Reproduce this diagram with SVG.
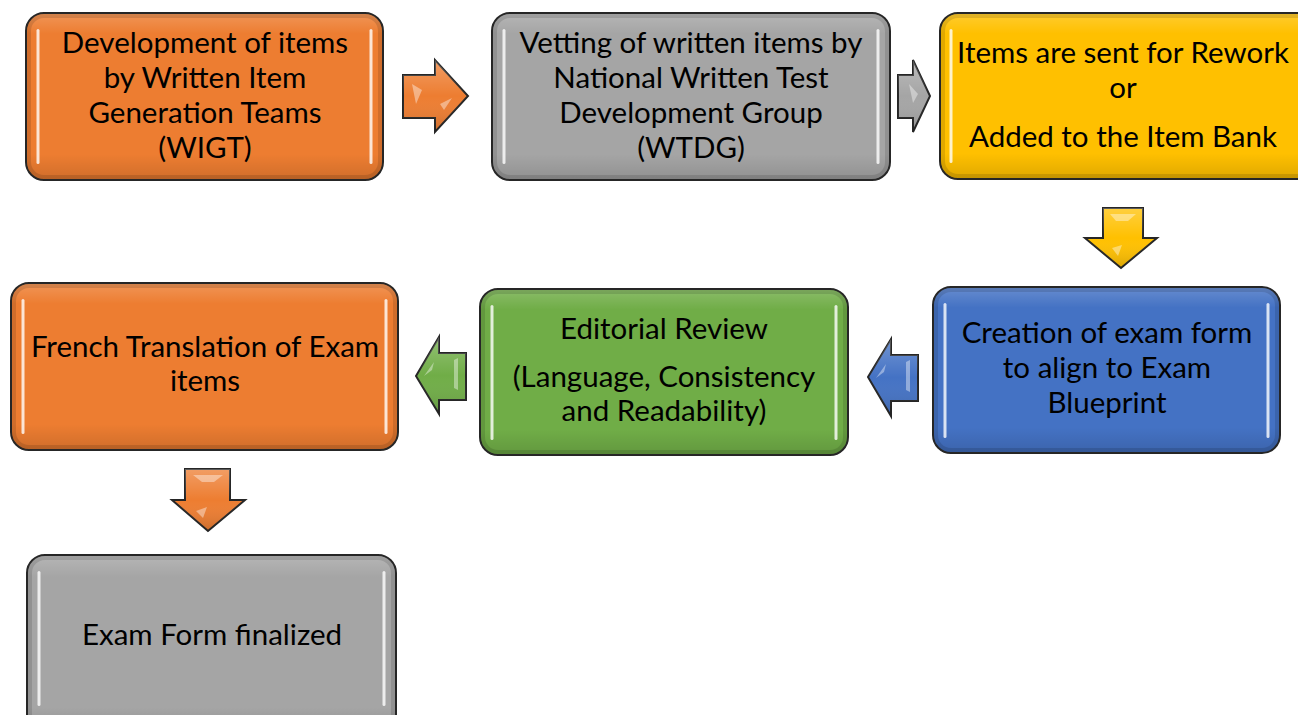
<svg xmlns="http://www.w3.org/2000/svg" width="1298" height="715" viewBox="0 0 1298 715">
  <defs>
    <style>
      .box { stroke: #262626; stroke-width: 2; }
      .orange { fill: #ED7D31; }
      .gray { fill: #A5A5A5; }
      .yellow { fill: #FFC000; }
      .blue { fill: #4472C4; }
      .green { fill: #70AD47; }
      .gloss { fill: url(#gloss); stroke: none; }
      .rim { fill: none; stroke: #000; stroke-opacity: 0.12; stroke-width: 4; }
      .shine { fill: #ffffff; opacity: 0.8; }
      .label { font-family: Lato, "Open Sans", "Liberation Sans", sans-serif; font-size: 29.5px; fill: #000; text-anchor: middle; }
      .arrow { stroke: #262626; stroke-width: 2; stroke-linejoin: miter; }
      .bevel { fill: #ffffff; opacity: 0.4; stroke: none; }
    </style>
    <linearGradient id="gloss" x1="0" y1="0" x2="0" y2="1">
      <stop offset="0" stop-color="#ffffff" stop-opacity="0.18"/>
      <stop offset="0.12" stop-color="#ffffff" stop-opacity="0"/>
      <stop offset="0.85" stop-color="#000000" stop-opacity="0"/>
      <stop offset="1" stop-color="#000000" stop-opacity="0.12"/>
    </linearGradient>
    <linearGradient id="arrowShade" x1="0" y1="0" x2="0" y2="1">
      <stop offset="0" stop-color="#ffffff" stop-opacity="0.25"/>
      <stop offset="0.5" stop-color="#ffffff" stop-opacity="0"/>
      <stop offset="1" stop-color="#000000" stop-opacity="0.15"/>
    </linearGradient>
  </defs>

  <rect width="1298" height="715" fill="#ffffff"/>

  <!-- connectors: bevelled block arrows -->
  <g id="connectors">
    <g id="arrow-1-2">
      <polygon class="arrow orange" points="403,75 435,75 435,60 468,96 435,132 435,118 403,118"/>
      <polygon points="403,75 435,75 435,60 468,96 435,132 435,118 403,118" fill="url(#arrowShade)"/>
      <polygon class="bevel" points="412,84 422,90 416,104"/>
      <polygon class="bevel" points="452,98 444,110 440,104"/>
    </g>
    <g id="arrow-2-3">
      <polygon class="arrow gray" points="898,75 913,75 913,60 930,96 913,132 913,118 898,118"/>
      <polygon points="898,75 913,75 913,60 930,96 913,132 913,118 898,118" fill="url(#arrowShade)"/>
      <polygon class="bevel" points="909,84 918,94 913,103"/>
    </g>
    <g id="arrow-3-4">
      <polygon class="arrow yellow" points="1103,208 1143,208 1143,238 1157,238 1121,268 1085,238 1103,238"/>
      <polygon points="1103,208 1143,208 1143,238 1157,238 1121,268 1085,238 1103,238" fill="url(#arrowShade)"/>
      <polygon class="bevel" points="1110,214 1136,214 1128,221 1116,221"/>
      <polygon class="bevel" points="1112,248 1122,245 1118,256"/>
    </g>
    <g id="arrow-4-5">
      <polygon class="arrow blue" points="918,355 891,355 891,339 868,377 891,416 891,401 918,401"/>
      <polygon points="918,355 891,355 891,339 868,377 891,416 891,401 918,401" fill="url(#arrowShade)"/>
      <polygon class="bevel" points="876,378 886,364 884,372"/>
      <polygon class="bevel" points="906,362 910,360 910,392 906,390"/>
    </g>
    <g id="arrow-5-6">
      <polygon class="arrow green" points="466,353 439,353 439,337 416,376 439,414 439,400 466,400"/>
      <polygon points="466,353 439,353 439,337 416,376 439,414 439,400 466,400" fill="url(#arrowShade)"/>
      <polygon class="bevel" points="424,376 434,362 432,370"/>
      <polygon class="bevel" points="454,360 458,358 458,390 454,388"/>
    </g>
    <g id="arrow-6-7">
      <polygon class="arrow orange" points="185,469 230,469 230,500 245,500 208,531 172,500 185,500"/>
      <polygon points="185,469 230,469 230,500 245,500 208,531 172,500 185,500" fill="url(#arrowShade)"/>
      <polygon class="bevel" points="193,475 223,475 214,482 202,482"/>
      <polygon class="bevel" points="196,511 207,507 203,518"/>
    </g>
  </g>

  <!-- step boxes -->
  <g id="node-development">
    <rect class="box orange" x="26" y="13" width="357" height="167" rx="18"/>
    <rect class="gloss" x="27" y="14" width="355" height="165" rx="17"/>
    <rect class="rim" x="29" y="16" width="351" height="161" rx="15"/>
    <rect class="shine" x="36.5" y="29" width="3" height="135" rx="1.5"/>
    <rect class="shine" x="369.5" y="29" width="3" height="135" rx="1.5"/>
    <text class="label" x="205" y="53">Development of items</text>
    <text class="label" x="205" y="88">by Written Item</text>
    <text class="label" x="205" y="123">Generation Teams</text>
    <text class="label" x="205" y="158">(WIGT)</text>
  </g>

  <g id="node-vetting">
    <rect class="box gray" x="492" y="13" width="398" height="167" rx="18"/>
    <rect class="gloss" x="493" y="14" width="396" height="165" rx="17"/>
    <rect class="rim" x="495" y="16" width="392" height="161" rx="15"/>
    <rect class="shine" x="502.5" y="29" width="3" height="135" rx="1.5"/>
    <rect class="shine" x="876.5" y="29" width="3" height="135" rx="1.5"/>
    <text class="label" x="691" y="53">Vetting of written items by</text>
    <text class="label" x="691" y="88">National Written Test</text>
    <text class="label" x="691" y="123">Development Group</text>
    <text class="label" x="691" y="158">(WTDG)</text>
  </g>

  <g id="node-rework">
    <rect class="box yellow" x="940" y="13" width="380" height="166" rx="18"/>
    <rect class="gloss" x="941" y="14" width="378" height="164" rx="17"/>
    <rect class="rim" x="943" y="16" width="374" height="160" rx="15"/>
    <rect class="shine" x="949.5" y="29" width="3" height="134" rx="1.5"/>
    <text class="label" x="1123" y="63">Items are sent for Rework</text>
    <text class="label" x="1123" y="98">or</text>
    <text class="label" x="1123" y="147">Added to the Item Bank</text>
  </g>

  <g id="node-exam-form">
    <rect class="box blue" x="933" y="287" width="347" height="166" rx="18"/>
    <rect class="gloss" x="934" y="288" width="345" height="164" rx="17"/>
    <rect class="rim" x="936" y="290" width="341" height="160" rx="15"/>
    <rect class="shine" x="943.5" y="303" width="3" height="135" rx="1.5"/>
    <rect class="shine" x="1266.5" y="303" width="3" height="135" rx="1.5"/>
    <text class="label" x="1107" y="343">Creation of exam form</text>
    <text class="label" x="1107" y="378">to align to Exam</text>
    <text class="label" x="1107" y="413">Blueprint</text>
  </g>

  <g id="node-editorial">
    <rect class="box green" x="480" y="289" width="368" height="166" rx="18"/>
    <rect class="gloss" x="481" y="290" width="366" height="164" rx="17"/>
    <rect class="rim" x="483" y="292" width="362" height="160" rx="15"/>
    <rect class="shine" x="490.5" y="305" width="3" height="135" rx="1.5"/>
    <rect class="shine" x="834.5" y="305" width="3" height="135" rx="1.5"/>
    <text class="label" x="664" y="339">Editorial Review</text>
    <text class="label" x="664" y="387">(Language, Consistency</text>
    <text class="label" x="664" y="421">and Readability)</text>
  </g>

  <g id="node-french">
    <rect class="box orange" x="11" y="283" width="387" height="167" rx="18"/>
    <rect class="gloss" x="12" y="284" width="385" height="165" rx="17"/>
    <rect class="rim" x="14" y="286" width="381" height="161" rx="15"/>
    <rect class="shine" x="21.5" y="299" width="3" height="135" rx="1.5"/>
    <rect class="shine" x="384.5" y="299" width="3" height="135" rx="1.5"/>
    <text class="label" x="205" y="357">French Translation of Exam</text>
    <text class="label" x="205" y="391">items</text>
  </g>

  <g id="node-finalized">
    <rect class="box gray" x="27" y="555" width="369" height="180" rx="18"/>
    <rect class="gloss" x="28" y="556" width="367" height="178" rx="17"/>
    <rect class="rim" x="30" y="558" width="363" height="174" rx="15"/>
    <rect class="shine" x="37.5" y="571" width="3" height="135" rx="1.5"/>
    <rect class="shine" x="382.5" y="571" width="3" height="135" rx="1.5"/>
    <text class="label" x="212" y="645">Exam Form finalized</text>
  </g>
</svg>
